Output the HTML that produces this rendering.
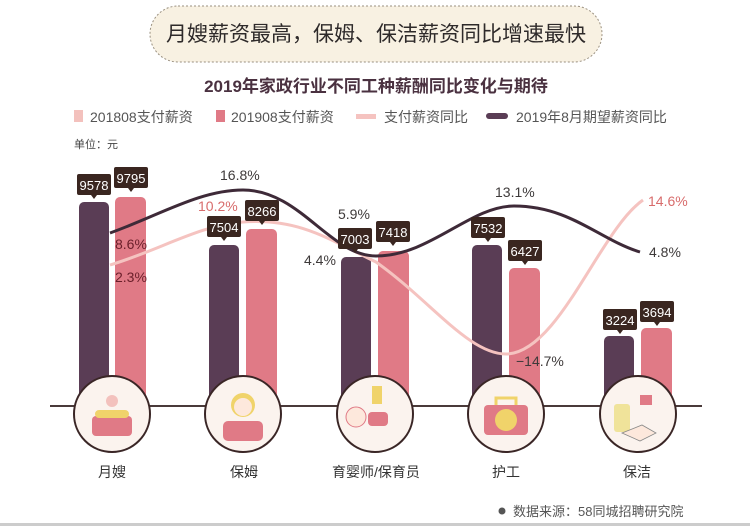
<!DOCTYPE html>
<html><head><meta charset="utf-8"><style>
body{margin:0;width:750px;height:526px;background:#fff;overflow:hidden;font-family:"Liberation Sans","Noto Sans CJK SC",sans-serif;}
</style></head><body>
<svg width="750" height="526" xmlns="http://www.w3.org/2000/svg" font-family="Liberation Sans, Noto Sans CJK SC, sans-serif">
<rect x="150" y="6" width="452" height="56" rx="28" fill="#f8f1e2" stroke="#9a9080" stroke-width="1" stroke-dasharray="2,2"/>
<text x="376" y="41" font-size="21" fill="#2e2a2a" text-anchor="middle">月嫂薪资最高，保姆、保洁薪资同比增速最快</text>
<text x="376" y="92" font-size="17" font-weight="bold" fill="#4a3140" text-anchor="middle">2019年家政行业不同工种薪酬同比变化与期待</text>
<g font-size="14" fill="#555">
<rect x="74" y="110" width="9" height="12" fill="#f3c1bd"/><text x="90" y="122">201808支付薪资</text>
<rect x="216" y="110" width="9" height="12" fill="#e07a86"/><text x="231" y="122">201908支付薪资</text>
<rect x="356" y="114" width="20" height="5" fill="#f5c3c0"/><text x="384" y="122">支付薪资同比</text>
<rect x="486" y="113" width="22" height="6" rx="3" fill="#5a3d55"/><text x="516" y="122">2019年8月期望薪资同比</text>
</g>
<text x="74" y="148" font-size="11" fill="#444">单位：元</text>
<g>
<rect x="79" y="202" width="30" height="210" rx="5" fill="#5a3d55"/><rect x="115" y="197" width="31" height="215" rx="5" fill="#e07a86"/>
<rect x="209" y="245" width="30" height="167" rx="5" fill="#5a3d55"/><rect x="246" y="229" width="31" height="183" rx="5" fill="#e07a86"/>
<rect x="341" y="257" width="30" height="155" rx="5" fill="#5a3d55"/><rect x="378" y="251" width="31" height="161" rx="5" fill="#e07a86"/>
<rect x="472" y="245" width="30" height="167" rx="5" fill="#5a3d55"/><rect x="509" y="268" width="31" height="144" rx="5" fill="#e07a86"/>
<rect x="604" y="336" width="30" height="76" rx="5" fill="#5a3d55"/><rect x="641" y="328" width="31" height="84" rx="5" fill="#e07a86"/>
</g>
<path d="M110,265 C160,250 200,225 243,222 C300,218 330,240 376,262 C430,300 470,356 508,354 C560,350 600,230 643,200" fill="none" stroke="#f5c3c0" stroke-width="3"/>
<path d="M110,233 C160,215 200,190 243,190 C300,190 330,256 376,256 C430,256 470,206 514,206 C570,206 600,240 640,252" fill="none" stroke="#3e2a38" stroke-width="3"/>
<g font-size="13" fill="#fff" text-anchor="middle">
<g><rect x="77" y="174" width="34" height="21" rx="2" fill="#3a2620"/><path d="M91,195 l3,4 l3,-4z" fill="#3a2620"/><text x="94" y="190">9578</text></g>
<g><rect x="114" y="167" width="34" height="21" rx="2" fill="#3a2620"/><path d="M128,188 l3,4 l3,-4z" fill="#3a2620"/><text x="131" y="183">9795</text></g>
<g><rect x="207" y="216" width="34" height="21" rx="2" fill="#3a2620"/><path d="M221,237 l3,4 l3,-4z" fill="#3a2620"/><text x="224" y="232">7504</text></g>
<g><rect x="245" y="200" width="34" height="21" rx="2" fill="#3a2620"/><path d="M259,221 l3,4 l3,-4z" fill="#3a2620"/><text x="262" y="216">8266</text></g>
<g><rect x="338" y="228" width="34" height="21" rx="2" fill="#3a2620"/><path d="M352,249 l3,4 l3,-4z" fill="#3a2620"/><text x="355" y="244">7003</text></g>
<g><rect x="376" y="221" width="34" height="21" rx="2" fill="#3a2620"/><path d="M390,242 l3,4 l3,-4z" fill="#3a2620"/><text x="393" y="237">7418</text></g>
<g><rect x="471" y="217" width="34" height="21" rx="2" fill="#3a2620"/><path d="M485,238 l3,4 l3,-4z" fill="#3a2620"/><text x="488" y="233">7532</text></g>
<g><rect x="508" y="240" width="34" height="21" rx="2" fill="#3a2620"/><path d="M522,261 l3,4 l3,-4z" fill="#3a2620"/><text x="525" y="256">6427</text></g>
<g><rect x="603" y="309" width="34" height="21" rx="2" fill="#3a2620"/><path d="M617,330 l3,4 l3,-4z" fill="#3a2620"/><text x="620" y="325">3224</text></g>
<g><rect x="640" y="301" width="34" height="21" rx="2" fill="#3a2620"/><path d="M654,322 l3,4 l3,-4z" fill="#3a2620"/><text x="657" y="317">3694</text></g>
</g>
<g font-size="14" fill="#3e3a3a">
<text x="115" y="249" fill="#6a1f2a">8.6%</text>
<text x="115" y="282" fill="#6a1f2a">2.3%</text>
<text x="220" y="180">16.8%</text>
<text x="198" y="211" fill="#d86c6c">10.2%</text>
<text x="338" y="219">5.9%</text>
<text x="304" y="265">4.4%</text>
<text x="495" y="197">13.1%</text>
<text x="516" y="366">−14.7%</text>
<text x="648" y="206" fill="#d86c6c">14.6%</text>
<text x="649" y="257">4.8%</text>
</g>
<line x1="50" y1="406" x2="702" y2="406" stroke="#4a3a3a" stroke-width="2"/>
<g stroke="#3a2626" stroke-width="2" fill="#fbf3ee">
<ellipse cx="112" cy="414" rx="38" ry="38"/>
<ellipse cx="243" cy="414" rx="38" ry="38"/>
<ellipse cx="375" cy="414" rx="38" ry="38"/>
<ellipse cx="506" cy="414" rx="38" ry="38"/>
<ellipse cx="638" cy="414" rx="38" ry="38"/>
</g>
<g>
<rect x="92" y="416" width="40" height="20" rx="4" fill="#e07a86"/><rect x="95" y="410" width="34" height="8" rx="4" fill="#f0d36a"/><circle cx="112" cy="401" r="6" fill="#f3c1bd"/>
<circle cx="243" cy="405" r="12" fill="#f0d36a"/><circle cx="243" cy="407" r="9" fill="#fde8dc"/><rect x="223" y="421" width="40" height="20" rx="5" fill="#e07a86"/>
<rect x="372" y="386" width="10" height="18" fill="#f0d36a"/><circle cx="356" cy="417" r="10" fill="#fde8dc" stroke="#e07a86"/><rect x="368" y="412" width="20" height="14" rx="4" fill="#e07a86"/>
<rect x="484" y="405" width="44" height="30" rx="4" fill="#e07a86"/><path d="M496,405 v-7 h20 v7" fill="none" stroke="#f0d36a" stroke-width="3"/><circle cx="506" cy="420" r="11" fill="#f0d36a"/>
<rect x="614" y="404" width="16" height="28" rx="3" fill="#f0e39a"/><rect x="640" y="395" width="12" height="10" fill="#e07a86"/><path d="M622,433 l20,-8 l14,8 l-16,8z" fill="#fde8dc" stroke="#888" stroke-width="0.8"/>
</g>
<g font-size="14" fill="#333" text-anchor="middle">
<text x="112" y="477">月嫂</text><text x="244" y="477">保姆</text><text x="376" y="477">育婴师/保育员</text><text x="506" y="477">护工</text><text x="637" y="477">保洁</text>
</g>
<circle cx="502" cy="511" r="3.5" fill="#555"/>
<text x="513" y="516" font-size="13" fill="#555">数据来源：58同城招聘研究院</text>
<rect x="0" y="523" width="750" height="3" fill="#ccc"/>
</svg>
</body></html>
